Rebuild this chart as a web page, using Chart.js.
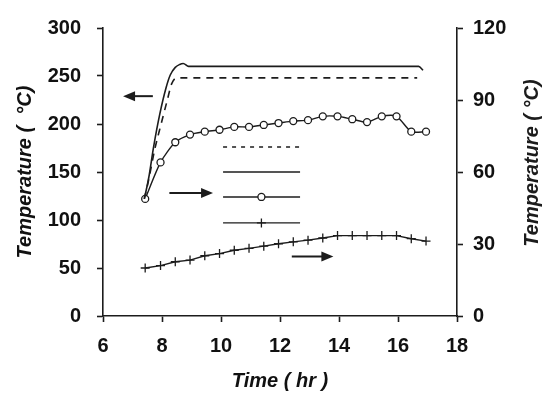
<!DOCTYPE html>
<html>
<head>
<meta charset="UTF-8" />
<script src="https://cdn.jsdelivr.net/npm/chart.js"></script>
<style>
  html, body { margin: 0; padding: 0; background: #fff; }
  #wrap { position: relative; width: 544px; height: 394px; }
</style>
</head>
<body>
<div id="wrap"><canvas id="tempChart" width="544" height="394"></canvas></div>
<script>
  // thời gian đo (giờ) cho hai chuỗi có điểm đánh dấu
  const times = [7.43, 7.95, 8.45, 8.95, 9.45, 9.95, 10.45, 10.95, 11.45, 11.95, 12.45, 12.95, 13.45, 13.95, 14.45, 14.95, 15.45, 15.95, 16.45, 16.95];
  const circleTemp = [122, 160, 181, 189, 192, 194, 197, 197, 199, 201, 203, 204, 208, 208, 205, 202, 208, 208, 192, 192];
  const plusTemp = [20, 21, 22.6, 23.3, 25.1, 26, 27.4, 28.2, 29.1, 30.1, 30.9, 31.6, 32.5, 33.5, 33.5, 33.5, 33.5, 33.5, 32.2, 31.2];

  // đường liền và đường gạch phía trên (trục trái)
  const solidTime = [7.4, 7.55, 7.72, 7.93, 8.14, 8.28, 8.45, 8.6, 8.72, 8.9, 16.7, 16.85];
  const solidTemp = [122, 144, 177, 211, 238, 251, 259, 262, 263, 260, 260, 256];
  const dashTime = [7.4, 7.55, 7.75, 7.97, 8.18, 8.33, 8.5, 8.7, 16.65];
  const dashTemp = [122, 142, 173, 200, 225, 242, 248, 248, 248];

  // ký hiệu chú thích ở giữa hình (không có chữ)
  const keyX = [10.07, 11.37, 12.68];
  const keyLevels = [176, 150, 124, 97];

  // mũi tên chỉ trục
  const arrowFromX = [7.69, 8.25, 12.4];
  const arrowToX = [6.68, 9.73, 13.81];
  const arrowY = [229, 128, 62];

  const xTicks = [6, 8, 10, 12, 14, 16, 18];
  const leftTicks = [0, 50, 100, 150, 200, 250, 300];
  const rightTicks = [0, 30, 60, 90, 120];

  const ink = '#1c1c1c';
  const pts = (xs, ys) => xs.map((x, i) => ({ x: x, y: ys[i] }));
  const keyPts = (level) => keyX.map(x => ({ x: x, y: level }));

  const arrowPlugin = {
    id: 'arrows',
    afterDatasetsDraw(chart) {
      const { ctx, scales } = chart;
      ctx.save();
      ctx.strokeStyle = ink;
      ctx.fillStyle = ink;
      ctx.lineWidth = 2;
      arrowFromX.forEach((fx, i) => {
        const x0 = scales.x.getPixelForValue(fx);
        const x1 = scales.x.getPixelForValue(arrowToX[i]);
        const y = scales.y.getPixelForValue(arrowY[i]);
        const dir = x1 > x0 ? 1 : -1;
        ctx.beginPath();
        ctx.moveTo(x0, y);
        ctx.lineTo(x1 - dir * 10, y);
        ctx.stroke();
        ctx.beginPath();
        ctx.moveTo(x1, y);
        ctx.lineTo(x1 - dir * 12, y - 5);
        ctx.lineTo(x1 - dir * 12, y + 5);
        ctx.closePath();
        ctx.fill();
      });
      ctx.restore();
    },
    afterDraw(chart) {
      // tiêu đề trục phải, đọc từ dưới lên như trục trái
      const s = chart.scales.yR;
      const ctx = chart.ctx;
      ctx.save();
      ctx.translate(s.right - 12, (s.top + s.bottom) / 2 - 9);
      ctx.rotate(-Math.PI / 2);
      ctx.font = 'italic bold 20px "Liberation Sans"';
      ctx.fillStyle = ink;
      ctx.textAlign = 'center';
      ctx.textBaseline = 'middle';
      ctx.fillText('Temperature ( \u00B0C)', 0, 0);
      ctx.restore();
    }
  };

  const tickFont = { family: 'Liberation Sans', size: 20, weight: 'bold' };
  const titleFont = { family: 'Liberation Sans', size: 20, weight: 'bold', style: 'italic' };

  new Chart(document.getElementById('tempChart'), {
    type: 'line',
    data: {
      datasets: [
        {
          data: pts(solidTime, solidTemp), yAxisID: 'y',
          borderColor: ink, borderWidth: 1.6, pointRadius: 0,
          cubicInterpolationMode: 'monotone'
        },
        {
          data: pts(dashTime, dashTemp), yAxisID: 'y',
          borderColor: ink, borderWidth: 1.6, borderDash: [7, 6], pointRadius: 0,
          cubicInterpolationMode: 'monotone'
        },
        {
          data: pts(times, circleTemp), yAxisID: 'y',
          borderColor: ink, borderWidth: 1.4, tension: 0.25,
          pointStyle: 'circle', pointRadius: 3.5, pointBackgroundColor: '#fff',
          pointBorderColor: ink, pointBorderWidth: 1.3
        },
        {
          data: pts(times, plusTemp), yAxisID: 'yR',
          borderColor: ink, borderWidth: 1.4, tension: 0,
          pointStyle: 'cross', pointRadius: 4.5, pointBorderColor: ink, pointBorderWidth: 1.3
        },
        // các đường chú thích
        {
          data: keyPts(keyLevels[0]), yAxisID: 'y',
          borderColor: ink, borderWidth: 1.4, borderDash: [4, 5], pointRadius: 0
        },
        {
          data: keyPts(keyLevels[1]), yAxisID: 'y',
          borderColor: ink, borderWidth: 1.4, pointRadius: 0
        },
        {
          data: keyPts(keyLevels[2]), yAxisID: 'y',
          borderColor: ink, borderWidth: 1.4,
          pointStyle: 'circle', pointRadius: [0, 3.5, 0], pointBackgroundColor: '#fff',
          pointBorderColor: ink, pointBorderWidth: 1.3
        },
        {
          data: keyPts(keyLevels[3]), yAxisID: 'y',
          borderColor: ink, borderWidth: 1.4,
          pointStyle: 'cross', pointRadius: [0, 4.5, 0], pointBorderColor: ink, pointBorderWidth: 1.3
        }
      ]
    },
    options: {
      responsive: false,
      animation: false,
      events: [],
      layout: { padding: { top: 19, left: 0, right: 0, bottom: 0 } },
      plugins: { legend: { display: false }, tooltip: { enabled: false } },
      scales: {
        x: {
          type: 'linear', min: 6, max: 18,
          afterFit: s => { s.height = 78; },
          afterBuildTicks: s => { s.ticks = xTicks.map(v => ({ value: v })); },
          border: { display: true, color: ink, width: 1.6 },
          grid: { display: true, drawOnChartArea: false, drawTicks: true, tickLength: 6, color: ink, tickColor: ink, tickWidth: 1.6 },
          ticks: { font: tickFont, color: '#111', padding: 12, maxRotation: 0 },
          title: { display: true, text: 'Time ( hr )', font: titleFont, color: '#111', padding: { top: 0, bottom: 1 } }
        },
        y: {
          position: 'left', min: 0, max: 300,
          afterFit: s => { s.width = 103; },
          afterBuildTicks: s => { s.ticks = leftTicks.map(v => ({ value: v })); },
          border: { display: true, color: ink, width: 1.6 },
          grid: { display: true, drawOnChartArea: false, drawTicks: true, tickLength: 6, color: ink, tickColor: ink, tickWidth: 1.6 },
          ticks: { font: tickFont, color: '#111', padding: 16 },
          title: { display: true, text: 'Temperature (  \u00B0C)', font: titleFont, color: '#111', padding: { top: 13, bottom: 0 } }
        },
        yR: {
          position: 'right', min: 0, max: 120,
          afterFit: s => { s.width = 87; },
          afterBuildTicks: s => { s.ticks = rightTicks.map(v => ({ value: v })); },
          border: { display: true, color: ink, width: 1.6 },
          grid: { display: true, drawOnChartArea: false, drawTicks: true, tickLength: 6, color: ink, tickColor: ink, tickWidth: 1.6 },
          ticks: { font: tickFont, color: '#111', padding: 10 }
        }
      }
    },
    plugins: [arrowPlugin]
  });
</script>
</body>
</html>
